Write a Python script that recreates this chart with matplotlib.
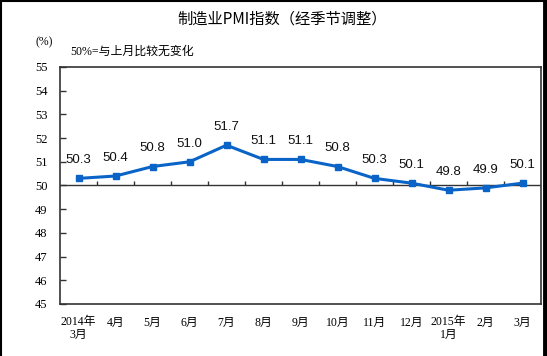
import numpy as np
import matplotlib
matplotlib.use("Agg")
import matplotlib.pyplot as plt
from matplotlib.lines import Line2D

# data
months = ["2014年\n3月", "4月", "5月", "6月", "7月", "8月", "9月",
          "10月", "11月", "12月", "2015年\n1月", "2月", "3月"]
pmi = [50.3, 50.4, 50.8, 51.0, 51.7, 51.1, 51.1, 50.8, 50.3, 50.1, 49.8, 49.9, 50.1]
yticks = list(range(45, 56))

cjk = "Noto Sans CJK SC"
serif = ["Liberation Serif", cjk]
line_color = "#0A64C8"
frame_color = "#333333"

fig = plt.figure(figsize=(5.47, 3.56), dpi=100)
ax = fig.add_axes([60 / 547, 1 - 304 / 356, 481 / 547, 237 / 356])

x = np.arange(len(pmi))
ax.plot(x, pmi, color=line_color, lw=2.2, marker="s", ms=5, zorder=3)
for xi, v in zip(x, pmi):
    ax.annotate("%.1f" % v, (xi, v), xytext=(0, 13), textcoords="offset points",
                ha="center", va="center", fontsize=9.5,
                family="Liberation Sans", color="#111111")

ax.set_xlim(-0.5, len(pmi) - 0.5)
ax.set_ylim(45, 55)

# 50 line acts as the category axis
ax.axhline(50, color=frame_color, lw=1, zorder=2)
bounds = np.arange(0.5, len(pmi) - 0.5, 1)
ax.vlines(bounds, 50, 50.17, color=frame_color, lw=1, zorder=2)

ax.set_yticks(yticks)
ax.set_yticklabels([str(t) for t in yticks], family=serif, fontsize=9)
ax.tick_params(axis="y", direction="in", length=4, width=1, color=frame_color, pad=9)
ax.set_xticks(x)
ax.set_xticklabels(months, family=serif, fontsize=8.5, linespacing=1.1, va="top")
ax.tick_params(axis="x", length=0, pad=9)

for s in ax.spines.values():
    s.set_color(frame_color)
    s.set_linewidth(1.2)

fig.text(282 / 547, 1 - 19 / 356, "制造业PMI指数（经季节调整）", ha="center", va="center",
         family=[cjk, "DejaVu Sans"], fontsize=11)
fig.text(35 / 547, 1 - 42 / 356, "(%)", ha="left", va="center",
         family=serif, fontsize=8.5)
fig.text(70 / 547, 1 - 52 / 356, "50%=与上月比较无变化", ha="left", va="center",
         family=serif, fontsize=8.6)

# outer border of the picture
fig.lines.append(Line2D([0.002, 0.002], [0, 1], transform=fig.transFigure, color="black", lw=1.5))
fig.lines.append(Line2D([0, 1], [0.997, 0.997], transform=fig.transFigure, color="black", lw=1.5))
fig.lines.append(Line2D([544.5 / 547, 544.5 / 547], [0, 1], transform=fig.transFigure, color="black", lw=3.5))

fig.savefig("out.png", dpi=100)
